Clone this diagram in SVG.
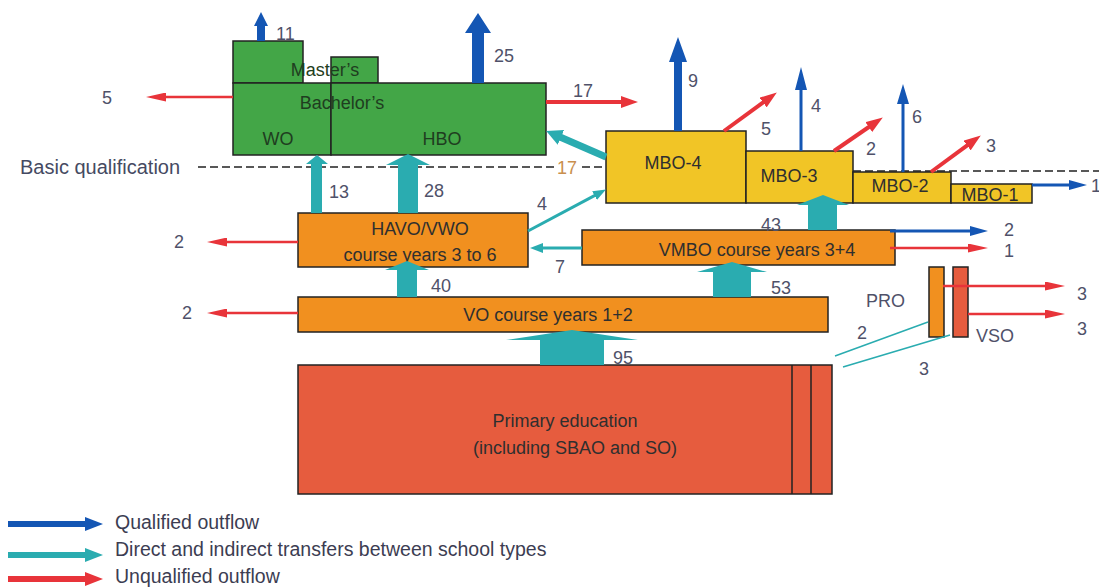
<svg xmlns="http://www.w3.org/2000/svg" width="1099" height="587" viewBox="0 0 1099 587">
<style>
text{font-family:"Liberation Sans",Arial,sans-serif;}
.box{stroke:#222;stroke-width:1.5;}
.g{fill:#43a647;}
.y{fill:#f1c526;}
.o{fill:#f1901f;}
.r{fill:#e65c3e;}
.bt{font-size:18px;fill:#2f2f2f;text-anchor:middle;}
.gt{font-size:18px;fill:#1f3d20;text-anchor:middle;}
.lb{font-size:18px;fill:#4f5169;}
.lg{font-size:19.5px;fill:#3c3d52;}
.ab{fill:#1456b4;}
.at{fill:#2aacb0;}
.lr{stroke:#e8343a;fill:none;}
.lbl{stroke:#1456b4;fill:none;}
.ltl{stroke:#2aacb0;fill:none;}
.dash{stroke:#222;stroke-width:1.5;stroke-dasharray:8 4;fill:none;}
</style>
<defs>
<marker id="hr" markerUnits="userSpaceOnUse" markerWidth="20" markerHeight="9" refX="1" refY="4.5" orient="auto"><path d="M0,0 L20,4.5 L0,9 z" fill="#e8343a"/></marker>
<marker id="hr2" markerUnits="userSpaceOnUse" markerWidth="17" markerHeight="12" refX="1" refY="6" orient="auto"><path d="M0,0 L17,6 L0,12 z" fill="#e8343a"/></marker>
<marker id="hb" markerUnits="userSpaceOnUse" markerWidth="18" markerHeight="10" refX="1" refY="5" orient="auto"><path d="M0,0 L18,5 L0,10 z" fill="#1456b4"/></marker>
<marker id="ht" markerUnits="userSpaceOnUse" markerWidth="13" markerHeight="10" refX="1" refY="5" orient="auto"><path d="M0,0 L13,5 L0,10 z" fill="#2aacb0"/></marker>
<marker id="htb" markerUnits="userSpaceOnUse" markerWidth="16" markerHeight="16" refX="1" refY="8" orient="auto"><path d="M0,0 L16,8 L0,16 z" fill="#2aacb0"/></marker>
<marker id="lgb" markerUnits="userSpaceOnUse" markerWidth="18" markerHeight="14" refX="1" refY="7" orient="auto"><path d="M0,0 L18,7 L0,14 z" fill="#1456b4"/></marker>
<marker id="lgt" markerUnits="userSpaceOnUse" markerWidth="18" markerHeight="14" refX="1" refY="7" orient="auto"><path d="M0,0 L18,7 L0,14 z" fill="#2aacb0"/></marker>
<marker id="lgr" markerUnits="userSpaceOnUse" markerWidth="18" markerHeight="14" refX="1" refY="7" orient="auto"><path d="M0,0 L18,7 L0,14 z" fill="#e8343a"/></marker>
</defs>
<rect width="1099" height="587" fill="#fff"/>

<g id="basic-qualification">
<line class="dash" x1="198" y1="167" x2="606" y2="167"/>
<line class="dash" x1="853" y1="171" x2="1099" y2="171"/>
<rect x="554" y="158" width="28" height="18" fill="#fff"/>
<text x="20" y="174" font-size="20" fill="#454a62">Basic qualification</text>
<text x="557" y="174" font-size="18" fill="#c98f4e">17</text>
</g>

<g id="master-wo"><rect class="box g" x="233" y="41" width="70" height="42"/></g>
<g id="master-hbo"><rect class="box g" x="331" y="57" width="47" height="26"/></g>
<g id="bachelor-wo"><rect class="box g" x="233" y="83" width="98" height="72"/><text class="gt" x="278" y="145">WO</text></g>
<g id="bachelor-hbo"><rect class="box g" x="331" y="83" width="215" height="72"/><text class="gt" x="442" y="145">HBO</text></g>
<text class="gt" x="325" y="76">Master’s</text>
<text class="gt" x="342" y="109">Bachelor’s</text>

<g id="mbo4"><rect class="box y" x="606" y="131" width="140" height="72"/><text class="bt" x="673" y="169">MBO-4</text></g>
<g id="mbo3"><rect class="box y" x="746" y="151" width="107" height="52"/><text class="bt" x="789" y="182">MBO-3</text></g>
<g id="mbo2"><rect class="box y" x="853" y="172" width="98" height="31"/><text class="bt" x="900" y="192">MBO-2</text></g>
<g id="mbo1"><rect class="box y" x="951" y="184" width="81" height="19"/><text class="bt" x="990" y="201">MBO-1</text></g>

<g id="havo-vwo"><rect class="box o" x="298" y="213" width="230" height="54"/><text class="bt" x="420" y="235">HAVO/VWO</text><text class="bt" x="420" y="261">course years 3 to 6</text></g>
<g id="vmbo"><rect class="box o" x="582" y="230" width="313" height="35"/><text class="bt" x="757" y="256">VMBO course years 3+4</text></g>
<g id="vo"><rect class="box o" x="298" y="297" width="530" height="35"/><text class="bt" x="548" y="321">VO course years 1+2</text></g>
<g id="pro"><rect class="box o" x="929" y="267" width="15" height="70"/><text class="lb" x="866" y="307">PRO</text></g>
<g id="vso"><rect class="box r" x="953" y="267" width="15" height="70"/><text class="lb" x="976" y="342">VSO</text></g>
<g id="primary"><rect class="box r" x="298" y="365" width="534" height="129"/><line class="box" x1="792" y1="365" x2="792" y2="494"/><line class="box" x1="811" y1="365" x2="811" y2="494"/><text class="bt" x="565" y="427">Primary education</text><text class="bt" x="575" y="454">(including SBAO and SO)</text></g>

<g id="connectors">
<polygon class="ab" points="257,41 257,26 254,26 261,12 268,26 265,26 265,41"/>
<polygon class="ab" points="472,83 472,33 465,33 478,13 491,33 484,33 484,83"/>
<polygon class="ab" points="674,131 674,62 669,62 678,37 687,62 682,62 682,131"/>
<polygon class="ab" points="799.5,151 799.5,90 795,90 801,67 807,90 802.5,90 802.5,151"/>
<polygon class="ab" points="901.5,172 901.5,104 897,104 903,84 909,104 904.5,104 904.5,172"/>
<line class="lbl" stroke-width="3" x1="890" y1="231" x2="971" y2="231" marker-end="url(#hb)"/>
<line class="lbl" stroke-width="3" x1="1032" y1="185" x2="1070" y2="185" marker-end="url(#hb)"/>
<line class="lr" stroke-width="2.5" x1="233" y1="97" x2="165" y2="97" marker-end="url(#hr)"/>
<line class="lr" stroke-width="4" x1="546" y1="102" x2="622" y2="102" marker-end="url(#hr2)"/>
<line class="lr" stroke-width="2.5" x1="298" y1="242" x2="226" y2="242" marker-end="url(#hr)"/>
<line class="lr" stroke-width="2.5" x1="298" y1="313" x2="226" y2="313" marker-end="url(#hr)"/>
<line class="lr" stroke-width="2.5" x1="890" y1="248" x2="969" y2="248" marker-end="url(#hr)"/>
<line class="lr" stroke-width="2.5" x1="943" y1="286" x2="1046" y2="286" marker-end="url(#hr)"/>
<line class="lr" stroke-width="2.5" x1="968" y1="314" x2="1046" y2="314" marker-end="url(#hr)"/>
<line class="lr" stroke-width="4" x1="724" y1="131" x2="763.9" y2="101.9" marker-end="url(#hr2)"/>
<line class="lr" stroke-width="4" x1="834" y1="151" x2="869.6" y2="126.5" marker-end="url(#hr2)"/>
<line class="lr" stroke-width="4" x1="931" y1="172" x2="967.9" y2="144.9" marker-end="url(#hr2)"/>
<polygon class="at" points="311,213 311,164 306,164 317,155 328,164 322,164 322,213"/>
<polygon class="at" points="398,213 398,165 386,165 408,154 430,165 418,165 418,213"/>
<polygon class="at" points="397,297 397,270 385,270 407,261 429,270 417,270 417,297"/>
<polygon class="at" points="808,230 808,205 797,205 823,195 849,205 837,205 837,230"/>
<polygon class="at" points="713,297 713,272 697,272 732,262 767,272 751,272 751,297"/>
<polygon class="at" points="540,365 540,340 506,340 572,330 638,340 604,340 604,365"/>
<line class="ltl" stroke-width="7" x1="606" y1="157" x2="560" y2="137" marker-end="url(#htb)"/>
<line class="ltl" stroke-width="3" x1="528" y1="231" x2="595.4" y2="195.1" marker-end="url(#ht)"/>
<line class="ltl" stroke-width="3" x1="582" y1="248" x2="542" y2="248" marker-end="url(#ht)"/>
<line class="ltl" stroke-width="1.5" x1="928" y1="322" x2="835" y2="356"/>
<line class="ltl" stroke-width="1.5" x1="950" y1="335" x2="843" y2="367"/>
</g>

<g id="labels">
<text class="lb" x="276" y="40">11</text>
<text class="lb" x="494" y="62">25</text>
<text class="lb" x="102" y="104">5</text>
<text class="lb" x="573" y="97">17</text>
<text class="lb" x="688" y="87">9</text>
<text class="lb" x="761" y="135">5</text>
<text class="lb" x="811" y="112">4</text>
<text class="lb" x="866" y="155">2</text>
<text class="lb" x="912" y="123">6</text>
<text class="lb" x="986" y="152">3</text>
<text class="lb" x="1091" y="192">1</text>
<text class="lb" x="329" y="198">13</text>
<text class="lb" x="424" y="197">28</text>
<text class="lb" x="537" y="210">4</text>
<text class="lb" x="555" y="273">7</text>
<text class="lb" x="761" y="231">43</text>
<text class="lb" x="1004" y="236">2</text>
<text class="lb" x="1004" y="257">1</text>
<text class="lb" x="431" y="292">40</text>
<text class="lb" x="771" y="294">53</text>
<text class="lb" x="174" y="248">2</text>
<text class="lb" x="182" y="319">2</text>
<text class="lb" x="613" y="364">95</text>
<text class="lb" x="1077" y="300">3</text>
<text class="lb" x="1077" y="335">3</text>
<text class="lb" x="857" y="339">2</text>
<text class="lb" x="919" y="375">3</text>
</g>

<g id="legend">
<line stroke="#1456b4" stroke-width="6" x1="8" y1="524" x2="86" y2="524" marker-end="url(#lgb)"/>
<line stroke="#2aacb0" stroke-width="6" x1="8" y1="555" x2="86" y2="555" marker-end="url(#lgt)"/>
<line stroke="#e8343a" stroke-width="6" x1="8" y1="579" x2="86" y2="579" marker-end="url(#lgr)"/>
<text class="lg" x="115" y="529">Qualified outflow</text>
<text class="lg" x="115" y="556">Direct and indirect transfers between school types</text>
<text class="lg" x="115" y="583">Unqualified outflow</text>
</g>
</svg>
